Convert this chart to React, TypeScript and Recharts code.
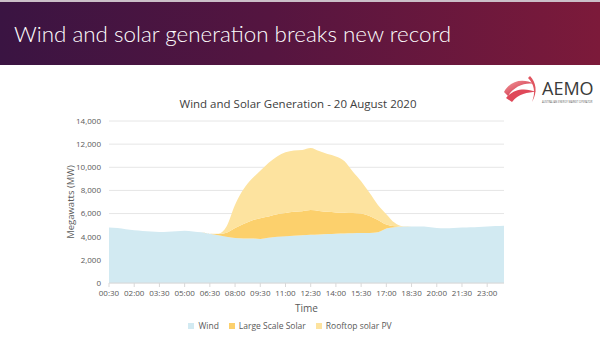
import React from 'react';
import { AreaChart, Area, XAxis, YAxis, CartesianGrid, Legend } from 'recharts';

const times = [
  '00:30','01:00','01:30','02:00','02:30','03:00','03:30','04:00','04:30','05:00','05:30','06:00',
  '06:30','07:00','07:30','08:00','08:30','09:00','09:30','10:00','10:30','11:00','11:30','12:00',
  '12:30','13:00','13:30','14:00','14:30','15:00','15:30','16:00','16:30','17:00','17:30','18:00',
  '18:30','19:00','19:30','20:00','20:30','21:00','21:30','22:00','22:30','23:00','23:30','00:00',
];

const wind = [
  4800, 4750, 4650, 4550, 4500, 4450, 4400, 4420, 4480, 4520, 4460, 4380,
  4250, 4130, 4000, 3880, 3850, 3850, 3800, 3900, 4000, 4030, 4080, 4120,
  4170, 4200, 4230, 4260, 4280, 4300, 4320, 4330, 4380, 4700, 4820, 4880,
  4890, 4880, 4850, 4760, 4740, 4760, 4790, 4820, 4850, 4880, 4920, 4950,
];

const largeScaleSolar = [
  0, 0, 0, 0, 0, 0, 0, 0, 0, 0, 0, 0,
  0, 100, 350, 870, 1250, 1550, 1800, 1850, 1950, 2020, 2070, 2080,
  2130, 2020, 1920, 1840, 1800, 1750, 1680, 1470, 1070, 350, 80, 0,
  0, 0, 0, 0, 0, 0, 0, 0, 0, 0, 0, 0,
];

const rooftopPV = [
  0, 0, 0, 0, 0, 0, 0, 0, 0, 0, 0, 0,
  0, 20, 550, 2020, 3000, 3600, 4100, 4650, 4990, 5250, 5300, 5300,
  5360, 5180, 5000, 4840, 4470, 3590, 2800, 2000, 1300, 900, 300, 20,
  0, 0, 0, 0, 0, 0, 0, 0, 0, 0, 0, 0,
];

const yTicks = [0, 2000, 4000, 6000, 8000, 10000, 12000, 14000];

const seriesNames = ['Wind', 'Large Scale Solar', 'Rooftop solar PV'];
const seriesColors = ['#d2eaf2', '#fcd06c', '#fde39f'];

const data = times.map((t, i) => ({
  time: t,
  wind: wind[i],
  lss: largeScaleSolar[i],
  rooftop: rooftopPV[i],
}));

const FONT = '"Open Sans", "Noto Sans", sans-serif';
const GREY = '#595959';

const Logo = () => (
  <svg width={95} height={40} style={{ position: 'absolute', left: 500, top: 70 }}>
    <defs>
      <linearGradient id="lg1" x1="0" y1="0" x2="1" y2="1">
        <stop offset="0" stopColor="#f3a0a0" />
        <stop offset="1" stopColor="#c8102e" />
      </linearGradient>
    </defs>
    <path d="M4 22 C10 10, 24 8, 34 14 C26 12, 14 16, 8 26 Z" fill="url(#lg1)" />
    <path d="M6 28 C14 18, 26 18, 36 22 C28 22, 18 24, 12 32 Z" fill="#d9283c" opacity={0.85} />
    <path d="M30 6 C36 12, 38 22, 32 32 C36 22, 34 14, 28 8 Z" fill="#e05560" />
    <text x={42} y={25} fontFamily={FONT} fontSize={18} fill="#3a3a3a">AEMO</text>
    <text x={42} y={33} fontFamily={FONT} fontSize={2.6} fill="#666">AUSTRALIAN ENERGY MARKET OPERATOR</text>
  </svg>
);

const renderLegend = () => (
  <div style={{ display: 'flex', justifyContent: 'center', gap: 10, fontFamily: FONT, fontSize: 8.5, color: GREY }}>
    {seriesNames.map((n, i) => (
      <div key={n} style={{ display: 'flex', alignItems: 'center' }}>
        <span style={{ display: 'inline-block', width: 6, height: 6, background: seriesColors[i], marginRight: 4 }} />
        <span>{n}</span>
      </div>
    ))}
  </div>
);

export default function App() {
  return (
    <div style={{ position: 'absolute', left: 0, top: 0, width: 600, height: 360, background: '#fff', overflow: 'hidden', fontFamily: FONT }}>
      <div style={{ position: 'absolute', left: 0, top: 0, width: 600, height: 2, background: '#cbbfc8' }} />
      <div
        style={{
          position: 'absolute', left: 0, top: 2, width: 600, height: 63,
          background: 'linear-gradient(90deg, #3a1442 0%, #551540 45%, #7c1a3a 100%)',
        }}
      >
        <div style={{ position: 'absolute', left: 14, top: 18, color: '#fff', fontFamily: 'Lato, sans-serif', fontWeight: 300, fontSize: 22.4, whiteSpace: 'nowrap' }}>
          Wind and solar generation breaks new record
        </div>
      </div>
      <Logo />
      <div style={{ position: 'absolute', left: 0, width: 596, top: 96, textAlign: 'center', fontSize: 11.5, color: '#404040', fontFamily: FONT }}>
        Wind and Solar Generation - 20 August 2020
      </div>
      <div style={{ position: 'absolute', left: 0, top: 0 }}>
        <AreaChart
          width={600}
          height={360}
          data={data}
          margin={{ top: 121, right: 96, bottom: 47, left: 49 }}
        >
          <CartesianGrid vertical={false} stroke="#e6e6e6" />
          <XAxis
            dataKey="time"
            interval={2}
            height={30}
            tick={{ fontSize: 8, fill: GREY, fontFamily: FONT }}
            stroke="#d9d9d9"
            tickLine={{ stroke: '#d9d9d9' }}
            tickSize={4}
            tickMargin={3}
            label={{ value: 'Time', position: 'insideBottom', offset: 1, style: { fontSize: 10, fill: GREY, fontFamily: FONT } }}
          />
          <YAxis
            width={60}
            domain={[0, 14000]}
            ticks={yTicks}
            axisLine={false}
            tickLine={false}
            tick={{ fontSize: 8, fill: GREY, fontFamily: FONT }}
            tickFormatter={(v: number) => v.toLocaleString('en-US')}
            label={{ value: 'Megawatts (MW)', angle: -90, position: 'insideLeft', offset: 22, style: { textAnchor: 'middle', fontSize: 9.5, fill: GREY, fontFamily: FONT } }}
          />
          <Area isAnimationActive={false} type="monotone" dataKey="wind" name="Wind" stackId="1" stroke="none" fill={seriesColors[0]} fillOpacity={1} />
          <Area isAnimationActive={false} type="monotone" dataKey="lss" name="Large Scale Solar" stackId="1" stroke="none" fill={seriesColors[1]} fillOpacity={1} />
          <Area isAnimationActive={false} type="monotone" dataKey="rooftop" name="Rooftop solar PV" stackId="1" stroke="none" fill={seriesColors[2]} fillOpacity={1} />
          <Legend
            layout="horizontal"
            align="center"
            verticalAlign="middle"
            content={renderLegend}
            wrapperStyle={{ top: 320, left: 0, width: 580 }}
          />
        </AreaChart>
      </div>
    </div>
  );
}
